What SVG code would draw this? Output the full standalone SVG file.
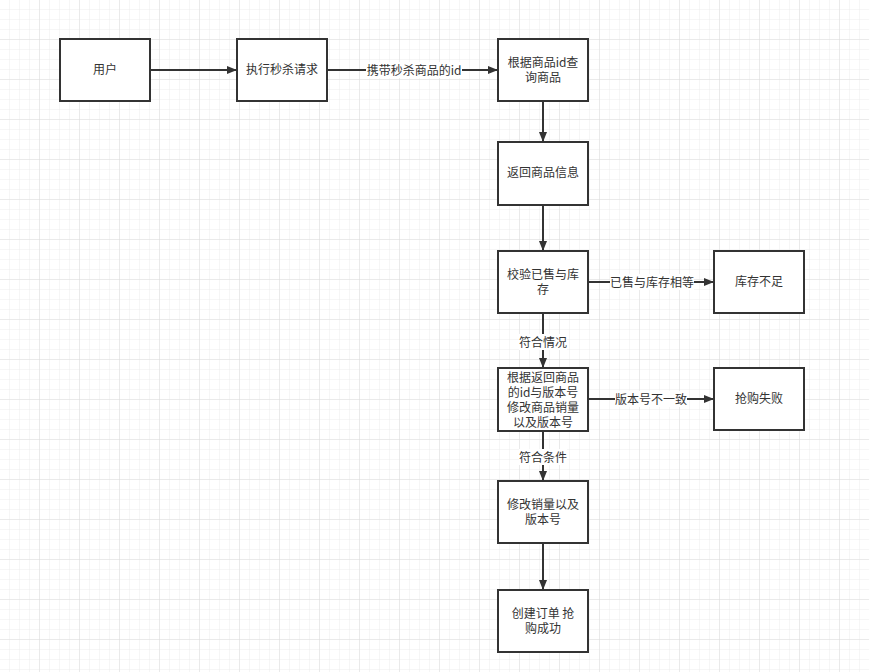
<svg xmlns="http://www.w3.org/2000/svg" width="869" height="672" viewBox="0 0 869 672">
<defs>
<pattern id="g" width="10" height="10" patternUnits="userSpaceOnUse"><path d="M10 0V10H0" fill="none" stroke="#ececec" stroke-width="1"/></pattern>
<pattern id="g2" width="40" height="40" patternUnits="userSpaceOnUse"><path d="M40 0V40H0" fill="none" stroke="#dedede" stroke-width="1"/></pattern>
<marker id="a" markerWidth="10" markerHeight="8" refX="9" refY="4" orient="auto" markerUnits="userSpaceOnUse"><path d="M0 0L10 4L0 8Z" fill="#333"/></marker>
<style>
.n rect{fill:#fff;stroke:#333;stroke-width:2}
text{font-family:"Noto Sans CJK SC","Liberation Sans",sans-serif;font-size:12px;fill:#333;text-anchor:middle}
.c path{fill:none;stroke:#333;stroke-width:2;marker-end:url(#a)}
.l{fill:#fff}
</style>
</defs>
<rect width="869" height="672" fill="#fff"/>
<rect width="869" height="672" fill="url(#g)"/>
<rect width="869" height="672" fill="url(#g2)"/>
<g class="c">
<path d="M150 70H236"/>
<path d="M327 70H497"/>
<path d="M543 101V141"/>
<path d="M543 205V250"/>
<path d="M588 282H713"/>
<path d="M543 313V367"/>
<path d="M588 399H713"/>
<path d="M543 431V480"/>
<path d="M543 543V589"/>
<rect class="l" x="366" y="62" width="96" height="16"/>
<text x="414" y="75">携带秒杀商品的id</text>
<rect class="l" x="610" y="274" width="84" height="16"/>
<text x="652" y="287">已售与库存相等</text>
<rect class="l" x="519" y="334" width="48" height="16"/>
<text x="543" y="347">符合情况</text>
<rect class="l" x="615" y="391" width="72" height="16"/>
<text x="651" y="404">版本号不一致</text>
<rect class="l" x="519" y="449" width="48" height="16"/>
<text x="543" y="462">符合条件</text>
</g>
<g id="n1" class="n"><rect x="60" y="39" width="90" height="62"/><text x="105" y="74">用户</text></g>
<g id="n2" class="n"><rect x="237" y="39" width="90" height="62"/><text x="282" y="74">执行秒杀请求</text></g>
<g id="n3" class="n"><rect x="498" y="39" width="90" height="62"/><text x="543" y="67">根据商品id查</text><text x="543" y="82">询商品</text></g>
<g id="n4" class="n"><rect x="498" y="142" width="90" height="63"/><text x="543" y="177">返回商品信息</text></g>
<g id="n5" class="n"><rect x="498" y="251" width="90" height="62"/><text x="543" y="279">校验已售与库</text><text x="543" y="294">存</text></g>
<g id="n6" class="n"><rect x="714" y="251" width="90" height="62"/><text x="759" y="286">库存不足</text></g>
<g id="n7" class="n"><rect x="498" y="368" width="90" height="63"/><text x="543" y="382">根据返回商品</text><text x="543" y="397">的id与版本号</text><text x="543" y="412">修改商品销量</text><text x="543" y="427">以及版本号</text></g>
<g id="n8" class="n"><rect x="714" y="368" width="90" height="62"/><text x="759" y="403">抢购失败</text></g>
<g id="n9" class="n"><rect x="498" y="481" width="90" height="62"/><text x="543" y="509">修改销量以及</text><text x="543" y="524">版本号</text></g>
<g id="n10" class="n"><rect x="498" y="590" width="90" height="62"/><text x="543" y="618">创建订单 抢</text><text x="543" y="633">购成功</text></g>
</svg>
